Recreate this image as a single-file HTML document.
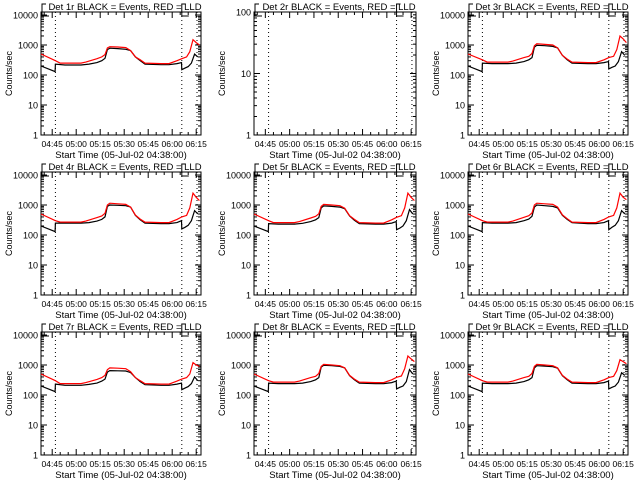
<!DOCTYPE html>
<html><head><meta charset="utf-8"><style>
html,body{margin:0;padding:0;background:#fff;}
svg{display:block;font-family:"Liberation Sans",sans-serif;}
</style></head><body>
<svg id="c" width="640" height="480" viewBox="0 0 640 480"></svg>
<script>
const detNames = ["1r","2r","3r","4r","5r","6r","7r","8r","9r"];
const xTickLabels = ["04:45","05:00","05:15","05:30","05:45","06:00","06:15"];
const xTickMinutes = [7,22,37,52,67,82,97];
const dottedMinutes = [9,88,97.5];
const blackTimes = [0,8.8,9,15,25,30,35,38,40,41.5,43,48,53,56,59,62,65,75,80,85,87.8,88,90,92,94,96,98];
const redTimes = [0,9,12,25,28,35,38,40,41.5,43,48,53,56,59,62,65,75,80,85,88,91,93,95,97,99];
const black1 = [200,130,230,215,215,230,260,300,360,700,780,760,720,650,400,300,230,220,220,240,260,150,170,190,250,500,400];
const red1 = [500,300,250,250,270,350,400,480,800,880,860,820,650,400,320,250,240,240,300,350,400,600,1500,1200,1000];
const black3 = [200,130,250,240,240,250,280,320,380,850,980,950,900,800,450,320,250,240,240,260,280,160,180,200,280,600,450];
const red3 = [500,320,270,270,290,380,420,520,950,1100,1050,1000,800,450,340,270,260,260,320,380,420,700,2000,1600,1200];
const black4 = [200,130,250,250,250,260,290,330,400,900,1000,980,950,850,450,320,250,240,240,260,300,160,180,210,300,650,500];
const red4 = [500,300,270,270,290,380,430,530,1000,1150,1100,1050,850,460,340,270,260,260,330,400,450,800,2500,1800,1400];
const black5 = [200,130,240,230,230,245,280,320,380,800,930,900,850,750,430,310,240,230,230,250,280,150,170,200,300,700,500];
const red5 = [500,300,260,260,280,370,420,510,900,1050,1000,950,780,440,330,260,250,250,320,390,440,800,2500,1800,1400];
const black6 = [200,130,260,250,250,260,300,340,420,850,1000,950,900,800,450,330,260,240,240,260,300,150,180,210,300,650,500];
const red6 = [500,300,270,270,290,390,440,540,1000,1150,1100,1050,850,470,350,270,260,260,330,400,450,800,2500,1800,1500];
const black7 = [200,130,230,210,210,225,250,290,340,580,650,640,630,560,380,280,220,210,210,230,250,150,170,190,240,400,300];
const red7 = [500,300,240,240,260,330,380,450,700,800,780,750,600,380,300,240,230,230,290,340,380,500,1200,1000,900];
const black8 = [200,130,250,240,240,250,280,320,380,850,980,950,900,800,440,320,250,240,240,260,290,160,180,200,280,700,500];
const red8 = [500,300,270,270,290,380,420,520,900,1050,1000,950,800,450,340,270,260,260,320,390,430,750,2000,1600,1300];
const black9 = [200,130,250,240,240,250,280,320,380,800,950,920,880,780,440,320,250,240,240,260,290,160,180,200,270,550,450];
const red9 = [500,300,270,270,290,380,420,520,900,1050,1000,950,800,450,340,270,260,260,320,380,420,650,1500,1300,1100];
const blackSeries = [black1,null,black3,black4,black5,black6,black7,black8,black9];
const redSeries = [red1,null,red3,red4,red5,red6,red7,red8,red9];

const NS = "http://www.w3.org/2000/svg";
const svg = document.getElementById("c");
function mk(tag, attrs, parent){const e=document.createElementNS(NS,tag);for(const k in attrs)e.setAttribute(k,attrs[k]);(parent||svg).appendChild(e);return e;}
const colLeft=[41,254,468], colW=[160,162,160], rowTop=[12,172,332], H=123;

for(let i=0;i<9;i++){
  const r=Math.floor(i/3), c=i%3;
  const L=colLeft[c], W=colW[c], T=rowTop[r], B=T+H;
  const g=mk("g",{});
  
  
  const empty = blackSeries[i]===null;
  const decades = empty?2:4.1;
  const xs = m => L + m*W/100;
  const ys = v => B - Math.log10(v)*H/decades;
  const box=mk("rect",{x:L,y:T,width:W,height:H,fill:"none",stroke:"#000","stroke-width":1},g);
  
  
  const t=mk("text",{x:L+W/2+4,y:T-2,"font-size":"9.5","text-anchor":"middle"},g);
  t.textContent="Det "+detNames[i]+" BLACK = Events, RED = LLD";
  
  
  const nd = empty?2:4;
  for(let d=0;d<=nd;d++){
    const y=ys(Math.pow(10,d));
    const lab=mk("text",{x:L-3,y:y+3.5,"font-size":"9","text-anchor":"end"},g);
    lab.textContent=String(Math.pow(10,d));
    
    
    mk("line",{x1:L,x2:L+6,y1:y,y2:y,stroke:"#000"},g);
    mk("line",{x1:L+W-6,x2:L+W,y1:y,y2:y,stroke:"#000"},g);
    for(let k=2;k<10;k++){
      const v=k*Math.pow(10,d); if(Math.log10(v)>decades) break;
      const yy=ys(v);
      mk("line",{x1:L,x2:L+3,y1:yy,y2:yy,stroke:"#000"},g);
      mk("line",{x1:L+W-3,x2:L+W,y1:yy,y2:yy,stroke:"#000"},g);
    }
  }
  const yl=mk("text",{x:0,y:0,"font-size":"9","text-anchor":"middle",transform:`translate(${L-29},${(T+B)/2}) rotate(-90)`},g);
  yl.textContent="Counts/sec";
  
  
  for(let m=2;m<100;m+=5){
    const x=xs(m), maj=xTickMinutes.indexOf(m)>=0, len=maj?6:3;
    mk("line",{x1:x,x2:x,y1:B,y2:B-len,stroke:"#000"},g);
    mk("line",{x1:x,x2:x,y1:T,y2:T+len,stroke:"#000"},g);
  }
  xTickLabels.forEach((s,j)=>{
    const e=mk("text",{x:xs(xTickMinutes[j]),y:B+12,"font-size":"8.5","text-anchor":"middle"},g);
    e.textContent=s;
    
    
  });
  const xl=mk("text",{x:L+W/2,y:B+23,"font-size":"9.5","text-anchor":"middle"},g);
  xl.textContent="Start Time (05-Jul-02 04:38:00)";
  
  
  dottedMinutes.forEach(m=>{
    const e=mk("line",{x1:xs(m),x2:xs(m),y1:T,y2:B,stroke:"#000","stroke-dasharray":"1,3"},g);
    
    
  });
  [L+1, xs(dottedMinutes[1])].forEach(bx=>{
    mk("polyline",{points:`${bx+4},${T-8} ${bx},${T-8} ${bx},${T+4} ${bx+7},${T+4}`,fill:"none",stroke:"#000"},g);
  });
  if(!empty){
    const rp=redTimes.map((m,j)=>xs(m).toFixed(1)+","+ys(redSeries[i][j]).toFixed(1)).join(" ");
    const bp=blackTimes.map((m,j)=>xs(m).toFixed(1)+","+ys(blackSeries[i][j]).toFixed(1)).join(" ");
    const bl=mk("polyline",{points:bp,fill:"none",stroke:"#000","stroke-width":1.2},g);
    
    
    const rl=mk("polyline",{points:rp,fill:"none",stroke:"#f00","stroke-width":1.2},g);
    
    
  }
}
</script>
</body></html>
